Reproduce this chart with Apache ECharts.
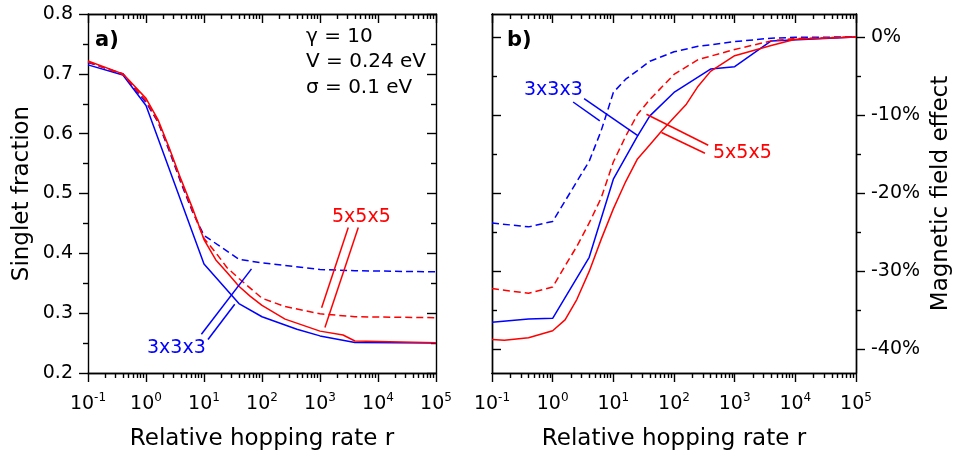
<!DOCTYPE html>
<html><head><meta charset="utf-8">
<script src="https://cdn.jsdelivr.net/npm/echarts@6/dist/echarts.min.js"></script>
<style>html,body{margin:0;padding:0;background:#fff}#c{width:957px;height:456px}</style>
</head><body><div id="c"></div>
<script>
// ---------- data ----------
const xExponents = [-1, 0, 1, 2, 3, 4, 5];
const yTicksA = [0.2, 0.3, 0.4, 0.5, 0.6, 0.7, 0.8];
const yTicksB = [0, -10, -20, -30, -40];
const yMinorB = [-5, -15, -25, -35];

// panel a) singlet fraction
const aBlueSolidR = [0.1, 0.4, 1, 10, 40, 100, 400, 1000, 4000, 1e5];
const aBlueSolid  = [0.715, 0.698, 0.647, 0.382, 0.316, 0.294, 0.273, 0.262, 0.251, 0.250];
const aBlueDashR  = [0.1, 0.4, 1, 1.6, 2.5, 4, 6.3, 10, 40, 100, 1000, 4000, 1e5];
const aBlueDash   = [0.719, 0.700, 0.652, 0.620, 0.572, 0.518, 0.470, 0.430, 0.390, 0.384, 0.373, 0.371, 0.369];
const aRedDashR   = [0.1, 0.4, 1, 1.6, 2.5, 4, 6.3, 10, 16, 25, 40, 100, 250, 1000, 4000, 1e5];
const aRedDash    = [0.720, 0.699, 0.655, 0.621, 0.575, 0.521, 0.472, 0.425, 0.401, 0.376, 0.358, 0.325, 0.311, 0.299, 0.294, 0.2925];
const aRedSolidR  = [0.1, 0.4, 1, 1.6, 2.5, 4, 6.3, 10, 16, 25, 40, 63, 100, 250, 1000, 2500, 4000, 1e5];
const aRedSolid   = [0.7215, 0.700, 0.659, 0.624, 0.577, 0.524, 0.476, 0.423, 0.389, 0.368, 0.345, 0.328, 0.313, 0.290, 0.270, 0.2635, 0.2535, 0.2505];

// panel b) magnetic field effect (%)
const bBlueSolidR = [0.1, 0.4, 1, 4, 10, 25, 40, 100, 400, 1000, 4000, 1e5];
const bBlueSolid  = [-36.5, -36.1, -36.0, -28.2, -18.2, -12.7, -10.1, -7.1, -4.1, -3.8, -0.5, 0];
const bBlueDashR  = [0.1, 0.4, 1, 1.6, 2.5, 4, 6.3, 10, 16, 25, 40, 100, 250, 1000, 4000, 1e4, 1e5];
const bBlueDash   = [-23.8, -24.3, -23.6, -21.0, -18.5, -15.9, -12.0, -7.1, -5.4, -4.3, -3.1, -1.9, -1.2, -0.6, -0.15, -0.05, 0];
const bRedDashR   = [0.1, 0.4, 1, 1.6, 2.5, 4, 6.3, 10, 16, 25, 40, 100, 250, 1000, 4000, 1e4, 1e5];
const bRedDash    = [-32.2, -32.8, -32.0, -29.3, -26.8, -23.8, -20.6, -16.0, -12.7, -9.9, -8.0, -4.8, -2.9, -1.6, -0.5, -0.2, 0];
const bRedSolidR  = [0.1, 0.16, 0.4, 1, 1.6, 2.5, 4, 6.3, 10, 16, 25, 40, 63, 100, 160, 250, 400, 1000, 4000, 1e4, 1e5];
const bRedSolid   = [-38.7, -38.8, -38.5, -37.6, -36.2, -33.6, -30.0, -25.9, -22.0, -18.5, -15.6, -13.8, -12.0, -10.3, -8.6, -6.3, -4.4, -2.4, -1.1, -0.3, 0];

// ---------- helpers ----------
const FONT = 'DejaVu Sans';
const BLUE = '#0000ff', RED = '#ff0000';
const pts = (rs, vs) => rs.map((r, i) => [Math.log10(r), vs[i]]);
const minorLog = [];
for (let n = xExponents[0]; n < xExponents[xExponents.length - 1]; n++)
  for (let k = 2; k <= 9; k++) minorLog.push(Math.log10(k) + n);

const lineS = { color: '#000', width: 1.4 };
function xAxesFor(grid) {
  const base = {
    type: 'value', gridIndex: grid, min: -1, max: 5, interval: 1,
    axisLine: { show: true, onZero: false, lineStyle: lineS },
    splitLine: { show: false }, axisLabel: { show: false }
  };
  return [
    Object.assign({}, base, {
      position: 'bottom',
      axisTick: { show: true, inside: false, length: 9, lineStyle: lineS },
      axisLabel: {
        show: true, margin: 19, fontFamily: FONT,
        formatter: v => '{b|10}{s|' + Math.round(v) + '}',
        rich: {
          b: { fontSize: 19, lineHeight: 24, fontFamily: FONT, color: '#000' },
          s: { fontSize: 12, lineHeight: 10, verticalAlign: 'top', fontFamily: FONT, color: '#000' }
        }
      },
      name: 'Relative hopping rate r', nameLocation: 'middle', nameGap: 55,
      nameTextStyle: { fontSize: 23, fontFamily: FONT, color: '#000' }
    }),
    Object.assign({}, base, {
      position: 'bottom',
      axisTick: { show: true, inside: false, length: 5, lineStyle: lineS, customValues: minorLog }
    }),
    Object.assign({}, base, {
      position: 'top',
      axisTick: { show: true, inside: true, length: 9, lineStyle: lineS }
    }),
    Object.assign({}, base, {
      position: 'top',
      axisTick: { show: true, inside: true, length: 5, lineStyle: lineS, customValues: minorLog }
    })
  ];
}

const yAxes = [
  { // 0: panel a left
    type: 'value', gridIndex: 0, position: 'left', min: 0.2, max: 0.8, interval: 0.1,
    axisLine: { show: true, onZero: false, lineStyle: lineS },
    axisTick: { show: true, inside: false, length: 9, lineStyle: lineS },
    minorTick: { show: true, splitNumber: 2, length: 5, lineStyle: lineS },
    splitLine: { show: false }, minorSplitLine: { show: false },
    axisLabel: { show: true, margin: 15, fontSize: 19, fontFamily: FONT, color: '#000', formatter: v => v.toFixed(1) },
    name: 'Singlet fraction', nameLocation: 'middle', nameGap: 54,
    nameTextStyle: { fontSize: 23, fontFamily: FONT, color: '#000' }
  },
  { // 1: panel a right mirror
    type: 'value', gridIndex: 0, position: 'right', min: 0.2, max: 0.8, interval: 0.1,
    axisLine: { show: true, onZero: false, lineStyle: lineS },
    axisTick: { show: true, inside: true, length: 9, lineStyle: lineS },
    minorTick: { show: true, splitNumber: 2, length: 5, lineStyle: lineS },
    splitLine: { show: false }, minorSplitLine: { show: false },
    axisLabel: { show: false }
  },
  { // 2: panel b left major
    type: 'value', gridIndex: 1, position: 'left', min: -43, max: 2.94,
    axisLine: { show: true, onZero: false, lineStyle: lineS },
    axisTick: { show: true, inside: true, length: 9, lineStyle: lineS, customValues: yTicksB },
    splitLine: { show: false }, axisLabel: { show: false }
  },
  { // 3: panel b left minor
    type: 'value', gridIndex: 1, position: 'left', min: -43, max: 2.94,
    axisLine: { show: true, onZero: false, lineStyle: lineS },
    axisTick: { show: true, inside: true, length: 5, lineStyle: lineS, customValues: yMinorB },
    splitLine: { show: false }, axisLabel: { show: false }
  },
  { // 4: panel b right major with labels
    type: 'value', gridIndex: 1, position: 'right', min: -43, max: 2.94,
    axisLine: { show: true, onZero: false, lineStyle: lineS },
    axisTick: { show: true, inside: false, length: 9, lineStyle: lineS, customValues: yTicksB },
    splitLine: { show: false },
    axisLabel: { show: true, margin: 15, fontSize: 19, fontFamily: FONT, color: '#000',
      customValues: yTicksB, formatter: v => Math.round(v) + '%' },
    name: 'Magnetic field effect', nameLocation: 'middle', nameGap: 74,
    nameTextStyle: { fontSize: 23, fontFamily: FONT, color: '#000' }
  },
  { // 5: panel b right minor
    type: 'value', gridIndex: 1, position: 'right', min: -43, max: 2.94,
    axisLine: { show: true, onZero: false, lineStyle: lineS },
    axisTick: { show: true, inside: false, length: 5, lineStyle: lineS, customValues: yMinorB },
    splitLine: { show: false }, axisLabel: { show: false }
  }
];

function mk(name, data, color, dashed, xi, yi, leaders) {
  const s = {
    type: 'line', name, data, xAxisIndex: xi, yAxisIndex: yi,
    symbol: 'none', showSymbol: false, smooth: false, animation: false, silent: true,
    lineStyle: { color, width: 1.5, type: dashed ? [7, 4] : 'solid' },
    itemStyle: { color }
  };
  if (leaders) {
    s.markLine = {
      silent: true, animation: false, symbol: ['none', 'none'],
      label: { show: false },
      lineStyle: { color, width: 1.5, type: 'solid' },
      data: leaders.map(l => [{ coord: l[0] }, { coord: l[1] }])
    };
  }
  return s;
}

// leader lines of the text labels (axis coordinates: log10 r, value)
const leadA_blue = [[[0.955, 0.2647], [1.819, 0.374]], [[1.069, 0.256], [1.530, 0.315]]];
const leadA_red  = [[[3.487, 0.443], [3.028, 0.309]], [[3.66, 0.443], [3.085, 0.276]]];
const leadB_blue = [[[0.518, -7.88], [1.409, -12.67]], [[0.337, -8.32], [0.777, -10.75]]];
const leadB_red  = [[[1.546, -9.89], [2.564, -13.86]], [[1.794, -12.23], [2.51, -14.88]]];

const txt = (x, y, text, size, color, weight) => ({
  type: 'text', x, y, silent: true,
  style: { text, fontSize: size, fontFamily: FONT, fill: color, fontWeight: weight || 'normal',
           textAlign: 'left', textVerticalAlign: 'middle' }
});

const option = {
  animation: false,
  backgroundColor: '#fff',
  textStyle: { fontFamily: FONT },
  grid: [
    { left: 88, top: 14, width: 348, height: 360 },
    { left: 492, top: 14, width: 364, height: 360 }
  ],
  xAxis: [...xAxesFor(0), ...xAxesFor(1)],
  yAxis: yAxes,
  series: [
    mk('a 3x3x3 B=0', pts(aBlueSolidR, aBlueSolid), BLUE, false, 0, 0, leadA_blue),
    mk('a 3x3x3 B', pts(aBlueDashR, aBlueDash), BLUE, true, 0, 0),
    mk('a 5x5x5 B', pts(aRedDashR, aRedDash), RED, true, 0, 0),
    mk('a 5x5x5 B=0', pts(aRedSolidR, aRedSolid), RED, false, 0, 0, leadA_red),
    mk('b 3x3x3 solid', pts(bBlueSolidR, bBlueSolid), BLUE, false, 4, 4, leadB_blue),
    mk('b 3x3x3 dashed', pts(bBlueDashR, bBlueDash), BLUE, true, 4, 4),
    mk('b 5x5x5 dashed', pts(bRedDashR, bRedDash), RED, true, 4, 4),
    mk('b 5x5x5 solid', pts(bRedSolidR, bRedSolid), RED, false, 4, 4, leadB_red)
  ],
  graphic: [
    txt(95, 41, 'a)', 21, '#000', 'bold'),
    txt(507, 41, 'b)', 21, '#000', 'bold'),
    txt(306, 37, 'γ = 10', 20, '#000'),
    txt(306, 62, 'V = 0.24 eV', 20, '#000'),
    txt(306, 88, 'σ = 0.1 eV', 20, '#000'),
    txt(332, 217, '5x5x5', 19, RED),
    txt(147, 348, '3x3x3', 19, BLUE),
    txt(524, 90, '3x3x3', 19, BLUE),
    txt(713, 153, '5x5x5', 19, RED)
  ]
};
const chart = echarts.init(document.getElementById('c'), null, { renderer: 'canvas' });
chart.setOption(option);
</script>
</body></html>
